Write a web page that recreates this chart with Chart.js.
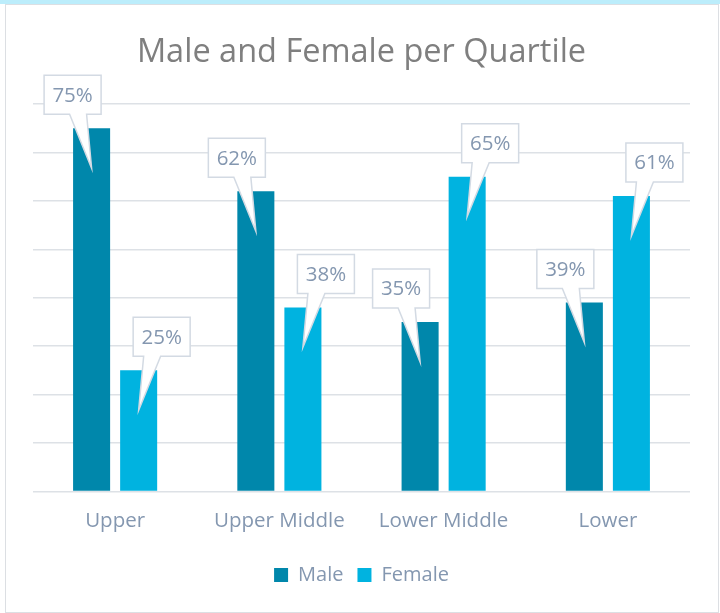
<!DOCTYPE html>
<html lang="en">
<head>
  <meta charset="UTF-8" />
  <title>Male and Female per Quartile</title>
  <script src="https://cdn.jsdelivr.net/npm/chart.js"></script>
  <style>
    html, body { margin: 0; padding: 0; background: #ffffff; }
    body { width: 720px; height: 613px; position: relative; overflow: hidden; }
    .band { position: absolute; left: 0; top: 0; width: 720px; height: 4px; background: #bcedfb; }
    .frame { position: absolute; left: 5px; top: 4px; width: 712px; height: 607px; border: 1px solid #dcdfe3; background: #fff; }
    #chart { position: absolute; left: 0; top: 0; }
  </style>
</head>
<body>
  <div class="band"></div>
  <div class="frame"></div>
  <canvas id="chart" width="720" height="613"></canvas>

  <script>
    // data
    const quartiles = ['Upper', 'Upper Middle', 'Lower Middle', 'Lower'];
    const maleValues = [75, 62, 35, 39];
    const femaleValues = [25, 38, 65, 61];
    const yTicks = [0, 10, 20, 30, 40, 50, 60, 70, 80];

    const textColor = '#8497b0';
    const fontFamily = '"Open Sans", "Noto Sans", sans-serif';

    // speech-bubble labels over each bar
    const calloutPlugin = {
      id: 'callouts',
      afterDatasetsDraw(chart) {
        const ctx = chart.ctx;
        const boxW = 57, boxH = 39;
        chart.data.datasets.forEach((ds, di) => {
          const meta = chart.getDatasetMeta(di);
          const dir = di === 0 ? -1 : 1;
          meta.data.forEach((bar, i) => {
            const tipX = bar.x;
            const tipY = bar.y + 40;
            const cx = bar.x + (di === 0 ? -19 : 23);
            const bottom = bar.y - 14;
            const left = cx - boxW / 2, right = cx + boxW / 2, top = bottom - boxH;
            let b1 = tipX + dir * 5, b2 = tipX + dir * 22;
            const baseL = Math.max(left + 2, Math.min(b1, b2));
            const baseR = Math.min(right - 2, Math.max(b1, b2));

            ctx.save();
            ctx.beginPath();
            ctx.moveTo(left, top);
            ctx.lineTo(right, top);
            ctx.lineTo(right, bottom);
            ctx.lineTo(baseR, bottom);
            ctx.lineTo(tipX, tipY);
            ctx.lineTo(baseL, bottom);
            ctx.lineTo(left, bottom);
            ctx.closePath();
            ctx.fillStyle = '#ffffff';
            ctx.fill();
            ctx.lineWidth = 1.5;
            ctx.strokeStyle = '#d3dae3';
            ctx.stroke();

            ctx.fillStyle = textColor;
            ctx.font = '20.5px ' + fontFamily;
            ctx.textAlign = 'center';
            ctx.textBaseline = 'middle';
            ctx.fillText(ds.data[i] + '%', cx, top + boxH / 2 + 1);
            ctx.restore();
          });
        });
      }
    };

    new Chart(document.getElementById('chart'), {
      type: 'bar',
      data: {
        labels: quartiles,
        datasets: [
          {
            label: 'Male',
            data: maleValues,
            backgroundColor: '#0087ab',
            borderWidth: 0,
            categoryPercentage: 0.573,
            barPercentage: 0.787
          },
          {
            label: 'Female',
            data: femaleValues,
            backgroundColor: '#00b3e0',
            borderWidth: 0,
            categoryPercentage: 0.573,
            barPercentage: 0.787
          }
        ]
      },
      options: {
        responsive: false,
        animation: false,
        layout: { padding: { left: 33, right: 30, top: 0, bottom: 18 } },
        plugins: {
          title: {
            display: true,
            text: 'Male and Female per Quartile',
            color: '#7f7f7f',
            font: { family: fontFamily, size: 32.5, weight: 'normal' },
            padding: { top: 33, bottom: 32 }
          },
          legend: {
            position: 'bottom',
            labels: {
              color: textColor,
              font: { family: fontFamily, size: 20 },
              boxWidth: 14,
              boxHeight: 14,
              padding: 14
            }
          },
          tooltip: { enabled: false }
        },
        scales: {
          x: {
            grid: { display: false, drawTicks: false },
            border: { display: false },
            ticks: {
              color: textColor,
              font: { family: fontFamily, size: 20.5 },
              padding: 17.5
            }
          },
          y: {
            min: 0,
            max: 80,
            afterBuildTicks(axis) {
              axis.ticks = yTicks.map(v => ({ value: v }));
            },
            grid: { color: '#dde1e6', lineWidth: 1.5, drawTicks: false },
            border: { display: false },
            ticks: { display: false }
          }
        }
      },
      plugins: [calloutPlugin]
    });
  </script>
</body>
</html>
